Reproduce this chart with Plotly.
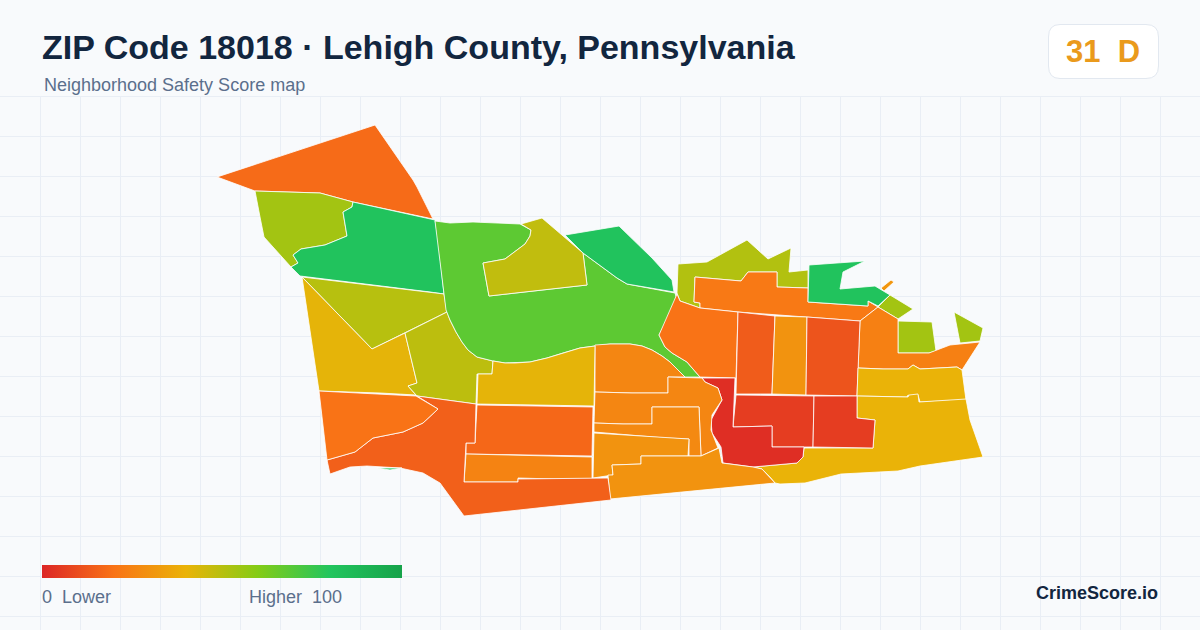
"""Neighborhood safety score map for ZIP 18018, drawn as filled polygons."""

import plotly.graph_objects as go
from plotly.colors import sample_colorscale

TITLE = "ZIP Code 18018 · Lehigh County, Pennsylvania"
SUBTITLE = "Neighborhood Safety Score map"
ZIP_SCORE = 31
ZIP_GRADE = "D"
BRAND = "CrimeScore.io"
LEGEND_LOW = "0  Lower"
LEGEND_HIGH = "Higher  100"

SCALE = [
    [0.0, "#dc2626"],
    [0.2, "#f97316"],
    [0.4, "#eab308"],
    [0.6, "#84cc16"],
    [0.8, "#22c55e"],
    [1.0, "#16a34a"],
]

# Neighborhood outlines, in projected map units (y grows southward)
north_hills = [(375, 125), (217, 177), (255, 191), (320, 193), (353, 202), (433, 219), (417, 187), (413, 180)]
northwest_lime = [(255, 191), (320, 193), (353, 202), (352, 207), (343, 212), (347, 236), (325, 245), (301, 249), (293, 255), (298, 263), (291, 267), (264, 237), (260, 217)]
northwest_green = [(353, 202), (433, 219), (435, 220), (438, 238), (444, 294), (430, 292), (300, 276), (291, 267), (298, 263), (293, 255), (301, 249), (325, 245), (347, 236), (343, 212), (352, 207)]
west_olive = [(302, 277), (430, 292), (444, 294), (447, 312), (372, 349)]
west_yellow = [(302, 277), (372, 349), (405, 333), (417, 383), (408, 386), (416, 395), (380, 393), (319, 391)]
west_center = [(405, 333), (447, 312), (450, 320), (456, 332), (462, 342), (468, 350), (477, 357), (493, 361), (492, 374), (477, 374), (476, 404), (417, 396), (408, 386), (417, 383)]
big_green = [(435, 221), (450, 223), (473, 222), (520, 224), (531, 230), (530, 236), (525, 244), (505, 259), (483, 263), (489, 296), (587, 285), (583, 253), (617, 278), (627, 284), (675, 293), (677, 300), (659, 335), (665, 347), (672, 353), (687, 362), (693, 369), (700, 377), (685, 377), (678, 370), (670, 362), (662, 356), (652, 350), (642, 346), (630, 344), (610, 344), (595, 346), (580, 348), (563, 353), (547, 358), (530, 362), (515, 363), (505, 363), (493, 361), (477, 357), (468, 350), (462, 342), (456, 332), (450, 320), (446, 310), (444, 293), (440, 260)]
inner_olive = [(521, 224), (542, 218), (583, 253), (587, 285), (489, 296), (483, 263), (505, 259), (525, 244), (530, 236), (531, 230)]
northeast_green = [(565, 235), (619, 226), (652, 258), (672, 280), (674, 292), (627, 284), (617, 278), (583, 253)]
ridge_lime = [(678, 264), (707, 262), (747, 240), (768, 259), (791, 248), (789, 272), (808, 270), (808, 288), (777, 287), (777, 272), (748, 272), (741, 281), (695, 277), (694, 302), (700, 303), (700, 308), (680, 301), (677, 293)]
ridge_orange = [(695, 277), (741, 281), (748, 272), (777, 272), (777, 287), (808, 288), (808, 302), (868, 306), (868, 301), (878, 307), (860, 321), (807, 317), (775, 315), (738, 312), (700, 308), (700, 303), (694, 302)]
river_green = [(809, 265), (865, 261), (843, 272), (840, 289), (875, 286), (890, 295), (878, 306), (868, 301), (868, 306), (808, 302)]
river_sliver = [(891, 280), (894, 282), (884, 291), (881, 288)]
river_lime = [(890, 295), (913, 309), (898, 319), (878, 307)]
east_box = [(898, 321), (932, 322), (936, 351), (929, 353), (898, 353)]
far_east = [(954, 312), (983, 328), (980, 341), (960, 343)]
east_orange = [(878, 307), (898, 319), (898, 353), (929, 353), (950, 345), (980, 342), (962, 370), (957, 367), (920, 369), (913, 365), (908, 369), (883, 369), (858, 368), (860, 321)]
center_orange = [(677, 294), (680, 301), (700, 308), (738, 312), (736, 378), (700, 377), (693, 369), (687, 362), (672, 353), (665, 347), (659, 335)]
tall_west = [(738, 312), (775, 316), (772, 394), (736, 394)]
tall_mid = [(775, 316), (807, 317), (806, 395), (772, 394)]
tall_east = [(807, 317), (860, 321), (857, 396), (806, 395)]
east_band = [(858, 368), (883, 369), (908, 369), (913, 365), (920, 369), (957, 367), (962, 370), (966, 400), (920, 402), (918, 395), (913, 397), (908, 395), (907, 397), (857, 396)]
southeast = [(857, 396), (908, 397), (909, 395), (918, 394), (919, 402), (966, 399), (970, 420), (983, 457), (920, 466), (898, 471), (841, 474), (805, 483), (780, 484), (775, 483), (770, 477), (762, 469), (753, 467), (797, 463), (803, 457), (804, 448), (843, 448), (873, 448), (875, 420), (857, 418)]
core_red_a = [(736, 395), (814, 396), (813, 447), (772, 447), (772, 426), (733, 427)]
core_red_b = [(814, 396), (857, 396), (857, 418), (875, 420), (873, 448), (813, 447)]
core_red_c = [(702, 378), (735, 378), (733, 427), (772, 426), (772, 447), (804, 447), (803, 457), (797, 463), (753, 467), (723, 463), (721, 447), (712, 433), (711, 420), (722, 400), (718, 388), (705, 382)]
south_a = [(595, 345), (610, 344), (630, 344), (642, 346), (652, 350), (662, 356), (670, 362), (678, 370), (685, 377), (668, 377), (668, 393), (632, 393), (595, 392)]
south_b = [(668, 377), (702, 378), (705, 382), (718, 388), (722, 400), (712, 415), (711, 430), (718, 448), (701, 456), (699, 407), (652, 407), (652, 424), (623, 424), (594, 423), (595, 392), (632, 393), (668, 393)]
south_c = [(652, 407), (699, 407), (701, 456), (689, 456), (689, 439), (665, 438), (594, 432), (594, 423), (623, 424), (652, 424)]
south_d = [(594, 433), (689, 439), (688, 456), (641, 456), (641, 464), (612, 465), (613, 475), (593, 478)]
south_e = [(641, 456), (701, 456), (719, 448), (722, 463), (753, 467), (762, 469), (775, 483), (610, 499), (608, 475), (613, 475), (612, 465), (641, 464)]
mid_yellow = [(493, 361), (505, 363), (515, 363), (530, 362), (547, 358), (563, 353), (580, 348), (595, 346), (594, 406), (477, 404), (478, 374), (492, 374)]
mid_orange = [(477, 405), (593, 407), (592, 456), (466, 454), (466, 443), (475, 443)]
low_orange = [(466, 454), (592, 457), (592, 479), (555, 479), (518, 478), (518, 482), (464, 482)]
southwest = [(417, 396), (476, 404), (475, 443), (466, 443), (464, 482), (518, 482), (518, 479), (608, 478), (611, 500), (464, 516), (440, 483), (423, 473), (400, 468), (367, 466), (350, 467), (330, 474), (327, 460), (355, 452), (373, 438), (403, 432), (423, 423), (438, 409)]
west_orange = [(319, 391), (416, 396), (438, 409), (423, 423), (403, 432), (373, 438), (355, 452), (327, 460)]
sliver_green = [(377, 468), (402, 468), (390, 470)]

tracts = [
    north_hills, northwest_lime, northwest_green, west_olive, west_yellow, west_center,
    big_green, inner_olive, northeast_green, ridge_lime, ridge_orange, river_green,
    river_sliver, river_lime, east_box, far_east, east_orange, center_orange,
    tall_west, tall_mid, tall_east, east_band, southeast, core_red_a, core_red_b,
    core_red_c, south_a, south_b, south_c, south_d, south_e, mid_yellow, mid_orange,
    low_orange, southwest, west_orange, sliver_green,
]
scores = [
    18, 54, 81, 50, 41, 49,
    68, 48, 81, 51, 22, 81,
    31, 54, 54, 54, 24, 20,
    14, 30, 12, 40, 40, 6, 6,
    2, 26, 26, 27, 30, 30, 41, 17,
    25, 15, 20, 81,
]

BG = "#f8fafc"
INK = "#12263f"
MUTED = "#5b6f8c"
BADGE_INK = "#ea9a1c"

fig = go.Figure()

for outline, score in zip(tracts, scores):
    xs = [p[0] for p in outline] + [outline[0][0]]
    ys = [p[1] for p in outline] + [outline[0][1]]
    fig.add_trace(go.Scatter(
        x=xs, y=ys, mode="lines", fill="toself",
        fillcolor=sample_colorscale(SCALE, score / 100)[0],
        line=dict(color="#ffffff", width=0.8),
        hoverinfo="skip", showlegend=False,
    ))

# Invisible points, only here so the library draws the score ramp
fig.add_trace(go.Scatter(
    x=[sum(p[0] for p in t) / len(t) for t in tracts],
    y=[sum(p[1] for p in t) / len(t) for t in tracts],
    mode="markers", hoverinfo="skip", showlegend=False,
    marker=dict(
        size=1, opacity=0, color=scores, colorscale=SCALE, cmin=0, cmax=100,
        colorbar=dict(
            orientation="h", x=42 / 1200, xanchor="left", y=1 - 578 / 630, yanchor="bottom",
            len=360, lenmode="pixels", thickness=13, thicknessmode="pixels",
            outlinewidth=0, borderwidth=0, xpad=0, ypad=0, ticks="", showticklabels=False,
        ),
    ),
))

# Header sits on a plain band, the grid only starts under it
fig.add_shape(type="rect", xref="x", yref="y", x0=0, x1=1200, y0=0, y1=96,
              fillcolor=BG, line_width=0, layer="between")
# Score badge
fig.add_shape(type="path", xref="x", yref="y", layer="between",
              path="M 1060 24.5 L 1146 24.5 Q 1158.5 24.5 1158.5 37 L 1158.5 66 Q 1158.5 78.5 1146 78.5 "
                   "L 1060 78.5 Q 1048.5 78.5 1048.5 66 L 1048.5 37 Q 1048.5 24.5 1060 24.5 Z",
              fillcolor="#ffffff", line=dict(color="#e2e8f0", width=1))

FONT = "Liberation Sans, Arial, sans-serif"
labels = [
    (TITLE, 41, 47, "left", 34, INK, True),
    (SUBTITLE, 43, 85, "left", 18, MUTED, False),
    (f"{ZIP_SCORE}  {ZIP_GRADE}", 1103, 51, "center", 31, BADGE_INK, True),
    (LEGEND_LOW, 41, 597, "left", 18, MUTED, False),
    (LEGEND_HIGH, 343, 597, "right", 18, MUTED, False),
    (BRAND, 1159, 593, "right", 18, INK, True),
]
for text, x, y, anchor, size, color, bold in labels:
    fig.add_annotation(
        x=x, y=y, xref="x", yref="y", text=f"<b>{text}</b>" if bold else text,
        showarrow=False, xanchor=anchor, yanchor="middle", borderpad=0,
        font=dict(family=FONT, size=size, color=color),
    )

fig.update_layout(
    width=1200, height=630, margin=dict(l=0, r=0, t=0, b=0),
    paper_bgcolor=BG, plot_bgcolor=BG, showlegend=False,
    xaxis=dict(range=[0, 1200], tick0=0, dtick=40, showgrid=True, gridcolor="#e9eef5", gridwidth=1,
               zeroline=False, showticklabels=False, ticks="", fixedrange=True),
    yaxis=dict(range=[630, 0], tick0=96, dtick=40, showgrid=True, gridcolor="#e9eef5", gridwidth=1,
               zeroline=False, showticklabels=False, ticks="", fixedrange=True),
)

# Browser default body margin would push the 1200x630 figure off the page
fig.write_html("out.html", config={"displayModeBar": False},
               post_script="document.body.style.margin = '0';")
